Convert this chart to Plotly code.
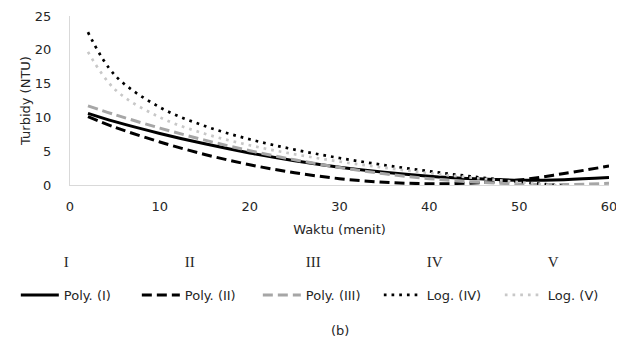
import plotly.graph_objects as go

waktu = [2, 5, 10, 15, 20, 25, 30, 35, 40, 45, 50, 55, 60]

poly_I = [10.6, 9.37, 7.63, 6.09, 4.74, 3.59, 2.64, 1.88, 1.31, 0.94, 0.70, 0.79, 1.1]
poly_II = [10.1, 8.54, 6.37, 4.52, 3.0, 1.81, 0.94, 0.40, 0.19, 0.30, 0.74, 1.7, 2.8]
poly_III = [11.7, 10.4, 8.42, 6.64, 5.08, 3.73, 2.59, 1.66, 0.94, 0.44, 0.15, 0.07, 0.25]
log_IV = [22.6, 16.24, 11.50, 8.73, 6.76, 5.24, 3.99, 2.94, 2.03, 1.22, 0.50, -0.15, -0.75]
log_V = [19.7, 14.14, 10.01, 7.59, 5.88, 4.55, 3.46, 2.55, 1.75, 1.04, 0.42, -0.15, -0.67]

series_names = ["I", "II", "III", "IV", "V"]
trend_names = ["Poly. (I)", "Poly. (II)", "Poly. (III)", "Log. (IV)", "Log. (V)"]

x_ticks = [0, 10, 20, 30, 40, 50, 60]
y_ticks = [0, 5, 10, 15, 20, 25]

sans = "DejaVu Sans"
serif = "Liberation Serif"
txt = "#262626"

fig = go.Figure()

# Hidden data series (legend row 1)
for nm in series_names:
    fig.add_trace(go.Scatter(x=[None], y=[None], name=nm, mode="lines",
                             line=dict(width=0, color="rgba(0,0,0,0)"),
                             legend="legend", showlegend=True))

styles = [
    dict(color="#000000", width=3, dash="solid"),
    dict(color="#000000", width=3, dash="10px,5px"),
    dict(color="#A6A6A6", width=3, dash="10px,5px"),
    dict(color="#000000", width=2.7, dash="2.7px,5px"),
    dict(color="#C8C8C8", width=2.7, dash="2.7px,5px"),
]
for nm, ys, st in zip(trend_names, [poly_I, poly_II, poly_III, log_IV, log_V], styles):
    fig.add_trace(go.Scatter(x=waktu, y=ys, name=nm, mode="lines",
                             line=dict(shape="spline", smoothing=1.0, **st),
                             legend="legend2"))

fig.update_layout(
    width=616, height=332,
    margin=dict(l=55, r=15, t=8, b=155),
    paper_bgcolor="white", plot_bgcolor="white",
    font=dict(family=sans, size=13, color=txt),
    xaxis=dict(range=[0, 60], tickvals=x_ticks, showgrid=False, zeroline=False,
               showline=True, linecolor="#D9D9D9", linewidth=1,
               ticks="outside", ticklen=9, tickcolor="white",
               ticklabeloverflow="allow", automargin=False,
               tickfont=dict(size=13, color=txt),
               title=dict(text="Waktu (menit)", standoff=12, font=dict(size=13, color=txt))),
    yaxis=dict(range=[0, 25], tickvals=y_ticks, showgrid=False, zeroline=False,
               showline=True, linecolor="#D9D9D9", linewidth=1,
               ticks="outside", ticklen=15, tickcolor="white",
               ticklabeloverflow="allow", automargin=False,
               tickfont=dict(size=13, color=txt),
               title=dict(text="Turbidy (NTU)", standoff=1, font=dict(size=13, color=txt))),
    legend=dict(orientation="h", x=-0.1005, xanchor="left", y=-0.454, yanchor="middle",
                entrywidth=68, entrywidthmode="pixels", itemwidth=38,
                font=dict(family=serif, size=15, color=txt),
                bgcolor="rgba(0,0,0,0)", tracegroupgap=0),
    legend2=dict(orientation="h", x=-0.1005, xanchor="left", y=-0.651, yanchor="middle",
                 entrywidth=68, entrywidthmode="pixels", itemwidth=38,
                 font=dict(family=sans, size=13, color=txt),
                 bgcolor="rgba(0,0,0,0)"),
    annotations=[dict(text="(b)", x=0.5, xref="paper", y=-0.858, yref="paper",
                      showarrow=False, xanchor="center", yanchor="middle",
                      font=dict(family=sans, size=13, color=txt))],
)

fig.write_html("out.html")
